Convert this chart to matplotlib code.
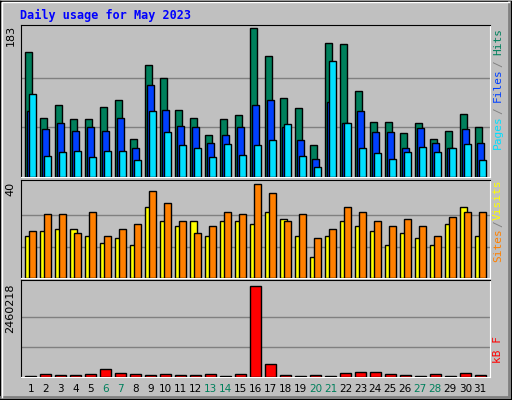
import matplotlib
matplotlib.use("Agg")
import matplotlib.pyplot as plt
from matplotlib.patches import Rectangle

days = list(range(1, 32))
weekends = [6, 7, 13, 14, 20, 21, 27, 28]
hits = [153,72,88,71,71,86,95,47,137,121,82,73,51,71,76,183,149,97,85,39,164,163,105,67,67,54,66,47,56,77,61]
files = [81,59,66,56,61,56,72,35,113,82,63,61,42,52,62,88,95,62,46,22,92,66,81,55,55,36,60,42,36,59,42]
pages = [102,26,31,32,24,32,32,21,81,55,39,36,24,41,27,39,46,65,26,12,142,66,35,29,22,31,37,31,36,41,21]
sites = [18,20,21,21,18,15,17,14,30,24,22,24,18,24,24,23,28,25,18,9,18,24,22,20,14,19,17,14,23,30,18]
visits = [20,27,27,19,28,18,21,23,37,32,24,19,22,28,27,40,36,24,27,17,21,30,28,24,22,25,22,18,26,28,28]
kbytes = [27000,81000,54000,54000,81000,216000,108000,81000,54000,81000,54000,54000,81000,27000,81000,
          2460218,351000,54000,27000,54000,27000,108000,135000,135000,81000,54000,27000,81000,27000,108000,54000]

W, H = 512, 400
fig = plt.figure(figsize=(W/100, H/100), dpi=100)
fig.patch.set_facecolor("#C0C0C0")
# bevel border
bg = fig.add_axes([0, 0, 1, 1]); bg.set_xlim(0, W); bg.set_ylim(H, 0); bg.axis("off")
bg.plot([0, W-1, W-1, 0, 0], [0.5, 0.5, H-1, H-1, 0.5], color="black", lw=1)
bg.plot([1, W-3, W-3], [H-3, H-3, 2], color="#808080", lw=2)
bg.plot([1.5, 1.5, W-3], [H-3, 1.5, 1.5], color="white", lw=1)
fig.text(20/W, 1-15/H, "Daily usage for May 2023", color="#0000FF", fontsize=8.5,
         fontweight="bold", family="DejaVu Sans Mono", va="center")

def panel(y0, y1):
    ax = fig.add_axes([21/W, 1-y1/H, (490-21)/W, (y1-y0)/H])
    ax.set_facecolor("#C0C0C0")
    ax.set_xlim(0, 31.3)
    ax.set_xticks([]); ax.set_yticks([])
    for s in ["top", "left"]:
        ax.spines[s].set_color("black")
    for s in ["bottom", "right"]:
        ax.spines[s].set_color("white")
    return ax

def bars(ax, vals, off, w, color):
    ax.bar([d - 1 + 0.29 + off for d in days], vals, width=w, align="edge",
           color=color, edgecolor="black", linewidth=1, zorder=3)

ax1 = panel(25, 177)
ax1.set_ylim(0, 183 * 1.02)
for g in [61, 122]:
    ax1.axhline(g, color="#808080", lw=1, zorder=1)
bars(ax1, hits, 0.0, 0.47, "#00805C")
bars(ax1, files, 0.13, 0.47, "#0040FF")
bars(ax1, pages, 0.27, 0.47, "#00E0FF")
ax1.text(-0.012, 1.0, "183", transform=ax1.transAxes, rotation=90, ha="right", va="top", fontsize=8)
fig.text(493/W, 1-28/H, "Hits", rotation=90, color="#00805C", fontsize=8, va="top", family="DejaVu Sans Mono")
fig.text(493/W, 1-60/H, "/", rotation=90, color="#808080", fontsize=8, va="top", family="DejaVu Sans Mono")
fig.text(493/W, 1-68/H, "Files", rotation=90, color="#0040FF", fontsize=8, va="top", family="DejaVu Sans Mono")
fig.text(493/W, 1-107/H, "/", rotation=90, color="#808080", fontsize=8, va="top", family="DejaVu Sans Mono")
fig.text(493/W, 1-115/H, "Pages", rotation=90, color="#00E0FF", fontsize=8, va="top", family="DejaVu Sans Mono")

ax2 = panel(180, 278)
ax2.set_ylim(0, 40 * 1.04)
for g in [13.3, 26.7]:
    ax2.axhline(g, color="#808080", lw=1, zorder=1)
bars(ax2, sites, 0.0, 0.47, "#FFFF00")
bars(ax2, visits, 0.27, 0.47, "#FF8000")
ax2.text(-0.012, 0.98, "40", transform=ax2.transAxes, rotation=90, ha="right", va="top", fontsize=8)
fig.text(493/W, 1-180/H, "Visits", rotation=90, color="#FFFF00", fontsize=8, va="top", family="DejaVu Sans Mono")
fig.text(493/W, 1-220/H, "/", rotation=90, color="#808080", fontsize=8, va="top", family="DejaVu Sans Mono")
fig.text(493/W, 1-228/H, "Sites", rotation=90, color="#FF8000", fontsize=8, va="top", family="DejaVu Sans Mono")

ax3 = panel(280, 377)
ax3.set_ylim(0, 2460218 * 1.07)
for g in [820073, 1640145]:
    ax3.axhline(g, color="#808080", lw=1, zorder=1)
bars(ax3, kbytes, 0.0, 0.73, "#FF0000")
ax3.text(-0.012, 0.96, "2460218", transform=ax3.transAxes, rotation=90, ha="right", va="top", fontsize=8)
fig.text(493/W, 1-336/H, "kB F", rotation=90, color="#FF0000", fontsize=8, va="top", family="DejaVu Sans Mono")

for d in days:
    x = 21 + (d - 1 + 0.29 + 0.36) * (469 / 31.3)
    fig.text(x/W, 1-389/H, str(d), ha="center", va="center", fontsize=7.5,
             color="#00805C" if d in weekends else "black")

fig.savefig("out.png", dpi=100, facecolor=fig.get_facecolor())
